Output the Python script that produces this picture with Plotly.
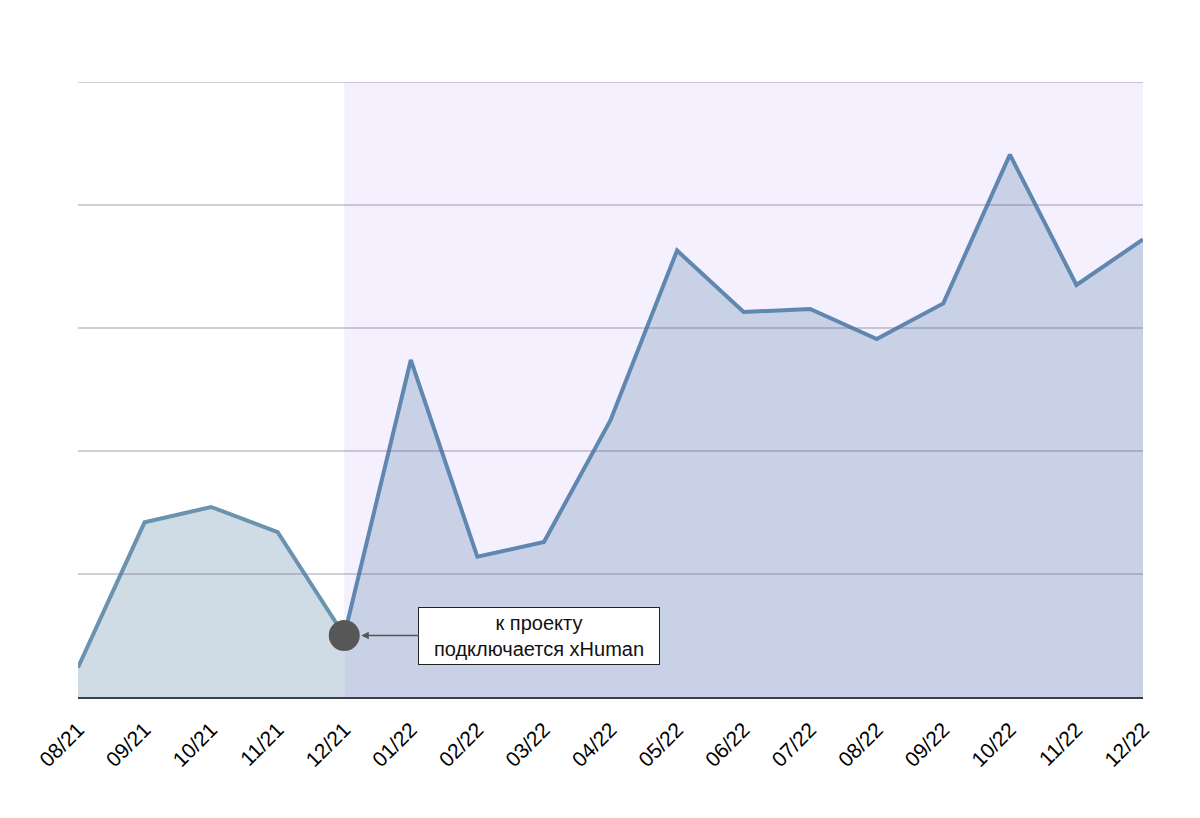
import plotly.graph_objects as go

months = ["08/21", "09/21", "10/21", "11/21", "12/21", "01/22", "02/22", "03/22",
          "04/22", "05/22", "06/22", "07/22", "08/22", "09/22", "10/22", "11/22", "12/22"]
values = [0.24, 1.42, 1.545, 1.34, 0.50, 2.74, 1.14, 1.26,
          2.25, 3.63, 3.13, 3.155, 2.91, 3.20, 4.41, 3.35, 3.72]
grid_levels = [1, 2, 3, 4, 5]
split_month = "12/21"
annotation_text = "к проекту<br>подключается xHuman"

si = months.index(split_month)
before_x, before_y = months[:si + 1], values[:si + 1]
after_x, after_y = months[si:], values[si:]

fig = go.Figure()
fig.add_trace(go.Scatter(
    x=before_x, y=before_y, mode="lines", fill="tozeroy",
    fillcolor="#D0DCE5", line=dict(color="#6A93AF", width=4),
    hoverinfo="skip", showlegend=False))
fig.add_trace(go.Scatter(
    x=after_x, y=after_y, mode="lines", fill="tozeroy",
    fillcolor="#C9D1E6", line=dict(color="#5F87B0", width=4),
    hoverinfo="skip", showlegend=False))
fig.add_trace(go.Scatter(
    x=[split_month], y=[values[si]], mode="markers",
    marker=dict(size=31, color="#575757"),
    hoverinfo="skip", showlegend=False))

fig.add_shape(type="rect", xref="x", yref="paper",
              x0=si, x1=len(months) - 1, y0=0, y1=1,
              fillcolor="#F4F0FD", line=dict(width=0), layer="below")

for g in grid_levels:
    fig.add_shape(type="line", xref="paper", yref="y", x0=0, x1=1, y0=g, y1=g,
                  line=dict(color="rgba(110,100,130,0.42)", width=1.5),
                  layer="above")

fig.add_annotation(
    x=split_month, y=values[si], xref="x", yref="y",
    text=annotation_text, showarrow=True, arrowhead=2, arrowsize=1,
    arrowwidth=1.5, arrowcolor="#555555", ax=195, ay=0, standoff=17,
    font=dict(family="Liberation Sans, Arial, sans-serif", size=20, color="#111111"),
    bgcolor="#FFFFFF", bordercolor="#222222", borderwidth=1, borderpad=4,
    width=232, height=48, align="center")

fig.update_layout(
    width=1200, height=818,
    margin=dict(l=78, r=57, t=82, b=121),
    paper_bgcolor="#FFFFFF", plot_bgcolor="rgba(0,0,0,0)",
    font=dict(family="Liberation Sans, Arial, sans-serif", color="#000000"),
    xaxis=dict(type="category", range=[0, len(months) - 1], tickangle=-45,
               tickfont=dict(size=21, color="#000000"), showgrid=False,
               showline=True, linecolor="#3A3F44", linewidth=2,
               ticks="", ticklabelstandoff=10, zeroline=False, fixedrange=True),
    yaxis=dict(range=[0, 5], dtick=1, showticklabels=False, showgrid=False,
               zeroline=False, showline=False, ticks="", fixedrange=True),
)

fig.write_html("out.html")
